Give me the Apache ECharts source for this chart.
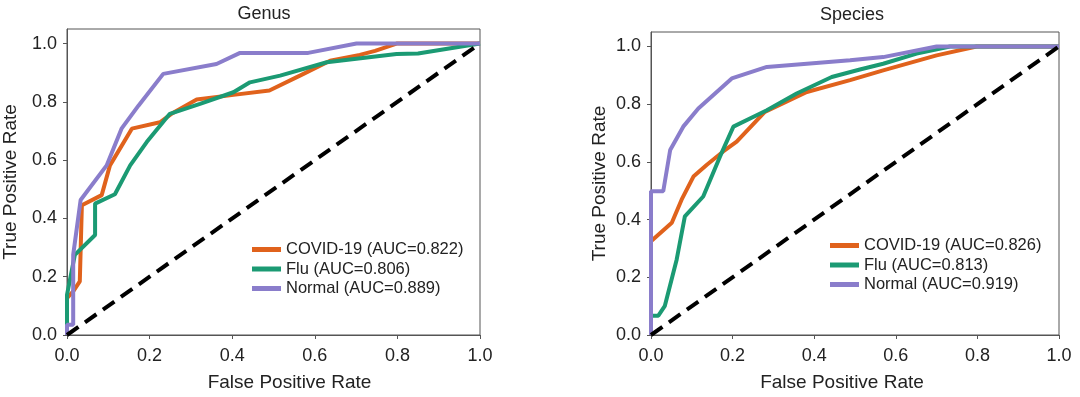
<!DOCTYPE html>
<html>
<head>
<meta charset="utf-8">
<script src="https://cdn.jsdelivr.net/npm/echarts@6/dist/echarts.min.js"></script>
<style>
  html, body { margin: 0; padding: 0; background: #fff; }
  #chart { width: 1080px; height: 397px; }
</style>
</head>
<body>
<div id="chart"></div>
<script>
// ROC points, [FPR, TPR]
const genusCovid = [[0, 0], [0, 0.126], [0.015, 0.15], [0.031, 0.184], [0.036, 0.445], [0.084, 0.48], [0.104, 0.582],
  [0.157, 0.708], [0.225, 0.73], [0.253, 0.759], [0.314, 0.808], [0.403, 0.824], [0.49, 0.839], [0.564, 0.89],
  [0.637, 0.941], [0.709, 0.961], [0.746, 0.975], [0.798, 1.0], [1.0, 1.0]]
const genusFlu = [[0, 0], [0, 0.138], [0.019, 0.275], [0.068, 0.343], [0.068, 0.451], [0.116, 0.483], [0.153, 0.582],
  [0.193, 0.662], [0.249, 0.759], [0.322, 0.793], [0.403, 0.833], [0.443, 0.867], [0.516, 0.89], [0.629, 0.936],
  [0.798, 0.964], [0.85, 0.966], [1.0, 1.0]]
const genusNormal = [[0, 0], [0, 0.035], [0.015, 0.035], [0.015, 0.275], [0.033, 0.463], [0.096, 0.582], [0.132, 0.708],
  [0.173, 0.787], [0.233, 0.896], [0.362, 0.93], [0.419, 0.968], [0.584, 0.968], [0.701, 1.0], [1.0, 1.0]]

const speciesCovid = [[0, 0], [0, 0.325], [0.051, 0.389], [0.075, 0.469], [0.104, 0.549], [0.137, 0.59], [0.177, 0.636],
  [0.21, 0.67], [0.279, 0.773], [0.382, 0.842], [0.488, 0.883], [0.569, 0.917], [0.70, 0.969], [0.798, 1.0], [1.0, 1.0]]
const speciesFlu = [[0, 0], [0, 0.067], [0.018, 0.067], [0.034, 0.101], [0.063, 0.262], [0.083, 0.411], [0.128, 0.48],
  [0.169, 0.618], [0.202, 0.722], [0.284, 0.779], [0.357, 0.837], [0.443, 0.894], [0.512, 0.92], [0.569, 0.94],
  [0.651, 0.975], [0.733, 1.0], [1.0, 1.0]]
const speciesNormal = [[0, 0], [0, 0.498], [0.03, 0.498], [0.047, 0.641], [0.079, 0.722], [0.116, 0.785], [0.198, 0.889],
  [0.284, 0.929], [0.488, 0.952], [0.569, 0.963], [0.70, 1.0], [1.0, 1.0]]

const chanceLine = [[0, 0], [1, 1]]

const genusNames = ['COVID-19 (AUC=0.822)', 'Flu (AUC=0.806)', 'Normal (AUC=0.889)']
const speciesNames = ['COVID-19 (AUC=0.826)', 'Flu (AUC=0.813)', 'Normal (AUC=0.919)']
const tickValues = [0, 0.2, 0.4, 0.6, 0.8, 1.0]

const colors = ['#e0621c', '#1b9a73', '#8a7dcb']
const FONT = '"Liberation Sans", Arial, sans-serif'
const textColor = '#222'

const chart = echarts.init(document.getElementById('chart'))

// namePad shifts the axis title sideways, the reference is not centred on the plot
function xAxisFor(idx, namePad) {
  return {
    gridIndex: idx,
    type: 'value',
    min: 0,
    max: 1,
    interval: 0.2,
    name: 'False Positive Rate',
    nameLocation: 'middle',
    nameGap: 38,
    nameTextStyle: { fontFamily: FONT, fontSize: 19, color: textColor, padding: namePad },
    axisLine: { onZero: false, lineStyle: { color: '#555', width: 1 } },
    axisTick: { show: true, length: 4, lineStyle: { color: '#555' } },
    axisLabel: { margin: 12, fontFamily: FONT, fontSize: 18, color: textColor, formatter: v => v.toFixed(1) },
    splitLine: { show: false }
  }
}

function yAxisFor(idx, gap) {
  return {
    gridIndex: idx,
    type: 'value',
    min: 0,
    max: 1.05,
    name: 'True Positive Rate',
    nameLocation: 'middle',
    nameGap: gap,
    nameTextStyle: { fontFamily: FONT, fontSize: 19, color: textColor },
    axisLine: { onZero: false, lineStyle: { color: '#555', width: 1 } },
    axisTick: { show: true, length: 4, lineStyle: { color: '#555' }, customValues: tickValues },
    axisLabel: { margin: 10, fontFamily: FONT, fontSize: 18, color: textColor, customValues: tickValues,
      formatter: v => v.toFixed(1) },
    splitLine: { show: false }
  }
}

function rocSeries(name, data, color, idx) {
  return {
    name: name,
    type: 'line',
    xAxisIndex: idx,
    yAxisIndex: idx,
    data: data,
    showSymbol: false,
    symbol: 'none',
    color: color,
    lineStyle: { color: color, width: 4 },
    animation: false
  }
}

function diagSeries(idx) {
  return {
    type: 'line',
    xAxisIndex: idx,
    yAxisIndex: idx,
    data: chanceLine,
    symbol: 'none',
    lineStyle: { color: '#000', width: 4, type: [14, 8] },
    z: 5,
    animation: false
  }
}

function legendFor(names, left, top) {
  return {
    orient: 'vertical',
    left: left,
    top: top,
    data: names,
    icon: 'rect',
    itemWidth: 29,
    itemHeight: 5,
    itemGap: 2.5,
    textStyle: { fontFamily: FONT, fontSize: 16.5, color: textColor, lineHeight: 17 }
  }
}

const option = {
  animation: false,
  backgroundColor: '#fff',
  title: [
    { text: 'Genus', left: 259, top: 0, textAlign: 'center',
      textStyle: { fontFamily: FONT, fontSize: 18, fontWeight: 'normal', color: textColor } },
    { text: 'Species', left: 847, top: 1, textAlign: 'center',
      textStyle: { fontFamily: FONT, fontSize: 18, fontWeight: 'normal', color: textColor } }
  ],
  legend: [
    legendFor(genusNames, 247, 236),
    legendFor(speciesNames, 825, 232)
  ],
  grid: [
    { left: 67, right: 600, top: 29, bottom: 60, show: true, borderColor: '#555', borderWidth: 1 },
    { left: 651, right: 21, top: 32, bottom: 61, show: true, borderColor: '#555', borderWidth: 1 }
  ],
  xAxis: [xAxisFor(0, [0, 0, 0, 32]), xAxisFor(1, [0, 26, 0, 0])],
  yAxis: [yAxisFor(0, 47), yAxisFor(1, 42)],
  series: [
    rocSeries(genusNames[0], genusCovid, colors[0], 0),
    rocSeries(genusNames[1], genusFlu, colors[1], 0),
    rocSeries(genusNames[2], genusNormal, colors[2], 0),
    diagSeries(0),
    rocSeries(speciesNames[0], speciesCovid, colors[0], 1),
    rocSeries(speciesNames[1], speciesFlu, colors[1], 1),
    rocSeries(speciesNames[2], speciesNormal, colors[2], 1),
    diagSeries(1)
  ]
}

chart.setOption(option)
</script>
</body>
</html>
